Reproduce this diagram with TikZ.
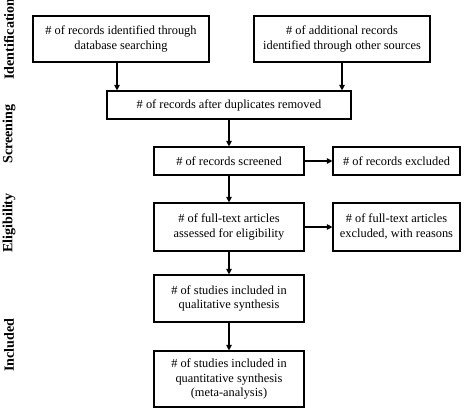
\documentclass[tikz,border=0pt]{standalone}
\usepackage{fontspec}
\setmainfont{Liberation Serif}
\usetikzlibrary{arrows.meta}
\tikzset{
  box/.style={draw,line width=0.8pt,inner sep=1pt,align=center,
    font=\fontsize{8.8}{10.6}\selectfont},
  phase/.style={rotate=90,font=\fontsize{10}{12}\selectfont\bfseries},
  flow/.style={-{Triangle[length=4pt,width=4pt]},line width=0.8pt}
}
\begin{document}
\begin{tikzpicture}[x=0.025cm,y=-0.025cm]
  \useasboundingbox (0,0) rectangle (472,410);
  % phases
  \node[phase] (lid) at (9,39) {Identification};
  \node[phase] (lscr) at (9,134) {Screening};
  \node[phase] (lelig) at (9,223) {Eligibility};
  \node[phase] (linc) at (9,345) {Included};
  % boxes
  \node[box,minimum width=4.4cm,minimum height=1.15cm] (db) at (121,39)
    {\# of records identified through\\database searching};
  \node[box,minimum width=4.4cm,minimum height=1.15cm] (other) at (342,39)
    {\# of additional records\\identified through other sources};
  \node[box,minimum width=6.1cm,minimum height=0.7cm] (dup) at (229,105)
    {\# of records after duplicates removed};
  \node[box,minimum width=3.75cm,minimum height=0.7cm] (scr) at (229,161)
    {\# of records screened};
  \node[box,minimum width=3.175cm,minimum height=0.7cm] (exc) at (396.5,161)
    {\# of records excluded};
  \node[box,minimum width=3.75cm,minimum height=1.2cm] (full) at (229,227)
    {\# of full-text articles\\assessed for eligibility};
  \node[box,minimum width=3.175cm,minimum height=1.2cm] (fexc) at (396.5,227)
    {\# of full-text articles\\excluded, with reasons};
  \node[box,minimum width=3.75cm,minimum height=1.175cm] (qual) at (229,298.5)
    {\# of studies included in\\qualitative synthesis};
  \node[box,minimum width=3.75cm,minimum height=1.4cm] (quant) at (229,379)
    {\# of studies included in\\quantitative synthesis\\(meta-analysis)};
  % arrows
  \draw[flow] ([xshift=-0.1cm]db.south) -- ([xshift=-0.1cm]db.south |- dup.north);
  \draw[flow] (other.south) -- (other.south |- dup.north);
  \draw[flow] (dup) -- (scr);
  \draw[flow] (scr) -- (exc);
  \draw[flow] (scr) -- (full);
  \draw[flow] (full) -- (fexc);
  \draw[flow] (full) -- (qual);
  \draw[flow] (qual) -- (quant);
\end{tikzpicture}
\end{document}
